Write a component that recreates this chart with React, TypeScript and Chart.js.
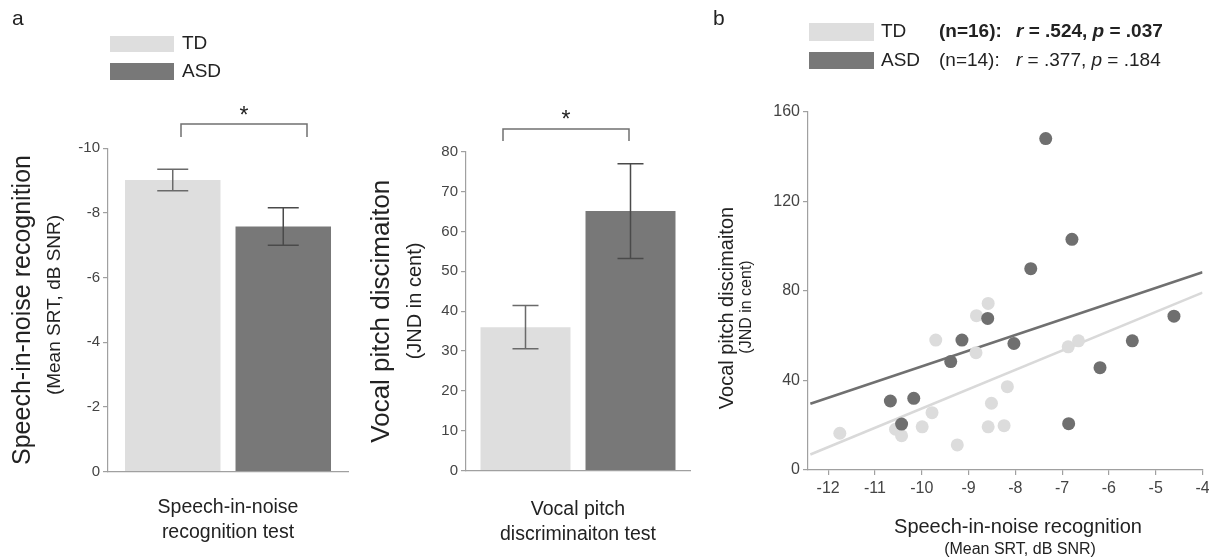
import React, { useEffect, useRef } from "react";
import { Chart, registerables } from "chart.js";

Chart.register(...registerables);

const FONT = "'Liberation Sans', Arial, Helvetica, sans-serif";
Chart.defaults.font.family = FONT;

// ---------- data ----------
const groups = ["TD", "ASD"];

// Panel a (left): speech-in-noise recognition (mean SRT, dB SNR)
const speechCategory = ["Speech-in-noise recognition test"];
const speechMeans = [-9.02, -7.58];
const speechErrors = [0.33, 0.58];
const speechTicks = [0, -2, -4, -6, -8, -10];

// Panel a (right): vocal pitch discrimination (JND in cent)
const pitchCategory = ["Vocal pitch discriminaiton test"];
const pitchMeans = [36.0, 65.1];
const pitchErrors = [5.4, 11.9];
const pitchTicks = [0, 10, 20, 30, 40, 50, 60, 70, 80];

// Panel b: scatter
const tdX = [-11.75, -10.56, -10.43, -9.99, -9.78, -9.7, -9.24, -8.84, -8.83, -8.58, -8.58, -8.51, -8.24, -8.17, -6.87, -6.65];
const tdY = [16.4, 18.2, 15.3, 19.3, 25.6, 58.0, 11.2, 52.4, 68.9, 74.4, 19.3, 29.8, 19.8, 37.2, 55.0, 57.7];
const asdX = [-10.67, -10.43, -10.17, -9.38, -9.14, -8.59, -8.03, -7.67, -7.35, -6.86, -6.79, -6.19, -5.5, -4.61];
const asdY = [30.8, 20.5, 32.0, 48.4, 58.0, 67.7, 56.5, 89.9, 148.0, 20.7, 103.0, 45.7, 57.7, 68.7];
const tdFitX = [-12.38, -4];
const tdFitY = [6.9, 79.2];
const asdFitX = [-12.38, -4];
const asdFitY = [29.6, 88.3];
const scatterXTicks = [-12, -11, -10, -9, -8, -7, -6, -5, -4];
const scatterYTicks = [0, 40, 80, 120, 160];
const tdStats = { n: "(n=16):", r: ".524", p: ".037" };
const asdStats = { n: "(n=14):", r: ".377", p: ".184" };

// ---------- styles ----------
const BAR_COLORS = ["#dedede", "#787878"];
const POINT_COLORS = ["#dcdcdc", "#6f6f6f"];
const LINE_COLORS = ["#d9d9d9", "#707070"];
const ERR_COLORS = ["#6a6a6a", "#4a4a4a"];
const AXIS = "#a0a0a0";
const TEXT = "#222222";
const TICK = "#444444";

type TextItem = {
  text: string;
  x: number;
  y: number;
  size: number;
  weight?: string;
  style?: string;
  align?: CanvasTextAlign;
  baseline?: CanvasTextBaseline;
  rotate?: boolean;
  color?: string;
};
type Run = { x: number; y: number; size: number; parts: { text: string; weight?: string; style?: string }[] };
type Swatch = { x: number; y: number; w: number; h: number; color: string };
type Bracket = { x1: number; x2: number; y: number; leg: number; star: { x: number; y: number; size: number } };

function fontStr(size: number, weight = "normal", style = "normal") {
  return `${style} ${weight} ${size}px ${FONT}`;
}

function decorPlugin(cfg: { texts?: TextItem[]; runs?: Run[]; swatches?: Swatch[]; bracket?: Bracket }) {
  return {
    id: "decor",
    afterDraw(chart: any) {
      const ctx: CanvasRenderingContext2D = chart.ctx;
      ctx.save();
      for (const s of cfg.swatches ?? []) {
        ctx.fillStyle = s.color;
        ctx.fillRect(s.x, s.y, s.w, s.h);
      }
      for (const t of cfg.texts ?? []) {
        ctx.save();
        ctx.font = fontStr(t.size, t.weight, t.style);
        ctx.fillStyle = t.color ?? TEXT;
        ctx.textAlign = t.align ?? "left";
        ctx.textBaseline = t.baseline ?? "middle";
        ctx.translate(t.x, t.y);
        if (t.rotate) ctx.rotate(-Math.PI / 2);
        ctx.fillText(t.text, 0, 0);
        ctx.restore();
      }
      for (const r of cfg.runs ?? []) {
        let x = r.x;
        ctx.textBaseline = "middle";
        ctx.textAlign = "left";
        ctx.fillStyle = TEXT;
        for (const p of r.parts) {
          ctx.font = fontStr(r.size, p.weight, p.style);
          ctx.fillText(p.text, x, r.y);
          x += ctx.measureText(p.text).width;
        }
      }
      if (cfg.bracket) {
        const b = cfg.bracket;
        ctx.strokeStyle = "#707070";
        ctx.lineWidth = 1.5;
        ctx.beginPath();
        ctx.moveTo(b.x1, b.leg);
        ctx.lineTo(b.x1, b.y);
        ctx.lineTo(b.x2, b.y);
        ctx.lineTo(b.x2, b.leg);
        ctx.stroke();
        ctx.font = fontStr(b.star.size);
        ctx.fillStyle = TEXT;
        ctx.textAlign = "center";
        ctx.textBaseline = "alphabetic";
        ctx.fillText("*", b.star.x, b.star.y);
      }
      ctx.restore();
    },
  };
}

function errorBarPlugin(errors: number[], capHalf: number) {
  return {
    id: "errorBars",
    afterDatasetsDraw(chart: any) {
      const ctx: CanvasRenderingContext2D = chart.ctx;
      const ys = chart.scales.y;
      ctx.save();
      chart.data.datasets.forEach((ds: any, i: number) => {
        const meta = chart.getDatasetMeta(i);
        meta.data.forEach((bar: any, j: number) => {
          const m = ds.data[j] as number;
          const e = errors[i];
          const y1 = ys.getPixelForValue(m - e);
          const y2 = ys.getPixelForValue(m + e);
          const x = bar.x;
          ctx.strokeStyle = ERR_COLORS[i];
          ctx.lineWidth = 1.5;
          ctx.beginPath();
          ctx.moveTo(x, y1);
          ctx.lineTo(x, y2);
          ctx.moveTo(x - capHalf, y1);
          ctx.lineTo(x + capHalf, y1);
          ctx.moveTo(x - capHalf, y2);
          ctx.lineTo(x + capHalf, y2);
          ctx.stroke();
        });
      });
      ctx.restore();
    },
  };
}

function ChartCanvas({ make, left, width, height }: { make: () => any; left: number; width: number; height: number }) {
  const ref = useRef<HTMLCanvasElement | null>(null);
  useEffect(() => {
    if (!ref.current) return;
    const chart = new Chart(ref.current, make());
    return () => chart.destroy();
  }, []);
  return (
    <canvas
      ref={ref}
      width={width}
      height={height}
      style={{ position: "absolute", left, top: 0, width, height }}
    />
  );
}

function barConfig(opts: {
  labels: string[];
  means: number[];
  errors: number[];
  ticks: number[];
  min: number;
  max: number;
  reverse: boolean;
  padding: { top: number; left: number; right: number; bottom: number };
  yWidth: number;
  xHeight: number;
  catPct: number;
  barPct: number;
  yTitle: string;
  yTitleSize: number;
  yTitlePad: number;
  xTitle: string[];
  capHalf: number;
  decor: any;
}) {
  return {
    type: "bar",
    data: {
      labels: opts.labels,
      datasets: groups.map((g, i) => ({
        label: g,
        data: [opts.means[i]],
        backgroundColor: BAR_COLORS[i],
        borderWidth: 0,
        categoryPercentage: opts.catPct,
        barPercentage: opts.barPct,
      })),
    },
    options: {
      animation: false,
      responsive: false,
      maintainAspectRatio: false,
      layout: { padding: opts.padding },
      plugins: { legend: { display: false }, tooltip: { enabled: false } },
      scales: {
        x: {
          ticks: { display: false },
          grid: { display: false },
          border: { display: true, color: AXIS, width: 1.2 },
          title: {
            display: true,
            text: opts.xTitle,
            color: TEXT,
            font: { size: 19.5, lineHeight: 1.282 },
            padding: 0,
          },
          afterFit: (s: any) => {
            s.height = opts.xHeight;
          },
        },
        y: {
          reverse: opts.reverse,
          min: opts.min,
          max: opts.max,
          afterBuildTicks: (s: any) => {
            s.ticks = opts.ticks.map((v) => ({ value: v }));
          },
          ticks: { font: { size: 15 }, color: TICK, padding: 3 },
          grid: { display: true, drawOnChartArea: false, drawTicks: true, tickLength: 5, color: AXIS, lineWidth: 1.2 },
          border: { display: true, color: AXIS, width: 1.2 },
          title: {
            display: true,
            text: opts.yTitle,
            color: TEXT,
            font: { size: opts.yTitleSize, lineHeight: 1.2 },
            padding: { top: opts.yTitlePad, bottom: 0 },
          },
          afterFit: (s: any) => {
            s.width = opts.yWidth;
          },
        },
      },
    },
    plugins: [errorBarPlugin(opts.errors, opts.capHalf), decorPlugin(opts.decor)],
  };
}

const makeSpeech = () =>
  barConfig({
    labels: speechCategory,
    means: speechMeans,
    errors: speechErrors,
    ticks: speechTicks,
    min: -10,
    max: 0,
    reverse: true,
    padding: { top: 148.3, left: 0, right: 12, bottom: 12.5 },
    yWidth: 108,
    xHeight: 73.8,
    catPct: 0.921,
    barPct: 0.864,
    yTitle: "Speech-in-noise recognition",
    yTitleSize: 25,
    yTitlePad: 8,
    xTitle: ["Speech-in-noise", "recognition test"],
    capHalf: 15.5,
    decor: {
      swatches: [
        { x: 110, y: 36, w: 64, h: 16, color: BAR_COLORS[0] },
        { x: 110, y: 63, w: 64, h: 17, color: BAR_COLORS[1] },
      ],
      texts: [
        { text: "a", x: 12, y: 19, size: 21 },
        { text: groups[0], x: 182, y: 44, size: 19 },
        { text: groups[1], x: 182, y: 72, size: 19 },
        { text: "(Mean SRT, dB SNR)", x: 55, y: 305, size: 19, rotate: true, align: "center" },
      ],
      bracket: { x1: 181, x2: 307, y: 124, leg: 137, star: { x: 244, y: 123, size: 23 } },
    },
  });

const makePitch = () =>
  barConfig({
    labels: pitchCategory,
    means: pitchMeans,
    errors: pitchErrors,
    ticks: pitchTicks,
    min: 0,
    max: 80,
    reverse: false,
    padding: { top: 151.7, left: 0, right: 10, bottom: 10.5 },
    yWidth: 106,
    xHeight: 76.8,
    catPct: 0.9375,
    barPct: 0.857,
    yTitle: "Vocal pitch discimaiton",
    yTitleSize: 26,
    yTitlePad: 6,
    xTitle: ["Vocal pitch", "discriminaiton test"],
    capHalf: 13,
    decor: {
      texts: [{ text: "(JND in cent)", x: 55, y: 301, size: 20, rotate: true, align: "center" }],
      bracket: { x1: 143, x2: 269, y: 129, leg: 141, star: { x: 206, y: 127, size: 23 } },
    },
  });

const makeScatter = () => ({
  type: "scatter",
  data: {
    datasets: [
      {
        label: "ASD",
        data: asdX.map((x, i) => ({ x, y: asdY[i] })),
        pointBackgroundColor: POINT_COLORS[1],
        backgroundColor: POINT_COLORS[1],
        pointBorderWidth: 0,
        pointRadius: 6.5,
        order: 1,
      },
      {
        label: "TD",
        data: tdX.map((x, i) => ({ x, y: tdY[i] })),
        pointBackgroundColor: POINT_COLORS[0],
        backgroundColor: POINT_COLORS[0],
        pointBorderWidth: 0,
        pointRadius: 6.5,
        order: 2,
      },
      {
        label: "ASD fit",
        data: asdFitX.map((x, i) => ({ x, y: asdFitY[i] })),
        showLine: true,
        borderColor: LINE_COLORS[1],
        borderWidth: 2.6,
        pointRadius: 0,
        order: 3,
      },
      {
        label: "TD fit",
        data: tdFitX.map((x, i) => ({ x, y: tdFitY[i] })),
        showLine: true,
        borderColor: LINE_COLORS[0],
        borderWidth: 2.6,
        pointRadius: 0,
        order: 4,
      },
    ],
  },
  options: {
    animation: false,
    responsive: false,
    maintainAspectRatio: false,
    layout: { padding: { top: 111.7, left: 0, right: 6, bottom: 0 } },
    plugins: { legend: { display: false }, tooltip: { enabled: false } },
    scales: {
      x: {
        type: "linear",
        min: -12.43,
        max: -4,
        afterBuildTicks: (s: any) => {
          s.ticks = scatterXTicks.map((v) => ({ value: v }));
        },
        ticks: { font: { size: 16 }, color: TICK, padding: 4 },
        grid: { display: true, drawOnChartArea: false, drawTicks: true, tickLength: 5, color: AXIS, lineWidth: 1.2 },
        border: { display: true, color: AXIS, width: 1.2 },
        afterFit: (s: any) => {
          s.height = 88;
          s.paddingRight = 0;
          s.paddingLeft = 0;
        },
      },
      y: {
        type: "linear",
        min: 0,
        max: 160,
        afterBuildTicks: (s: any) => {
          s.ticks = scatterYTicks.map((v) => ({ value: v }));
        },
        ticks: { font: { size: 16 }, color: TICK, padding: 3 },
        grid: { display: true, drawOnChartArea: false, drawTicks: true, tickLength: 5, color: AXIS, lineWidth: 1.2 },
        border: { display: true, color: AXIS, width: 1.2 },
        afterFit: (s: any) => {
          s.width = 108;
        },
      },
    },
  },
  plugins: [
    decorPlugin({
      swatches: [
        { x: 109, y: 23, w: 65, h: 18, color: BAR_COLORS[0] },
        { x: 109, y: 52, w: 65, h: 17, color: BAR_COLORS[1] },
      ],
      texts: [
        { text: "b", x: 13, y: 19, size: 21 },
        { text: groups[0], x: 181, y: 32, size: 19 },
        { text: groups[1], x: 181, y: 61, size: 19 },
        { text: tdStats.n, x: 239, y: 32, size: 19, weight: "bold" },
        { text: asdStats.n, x: 239, y: 61, size: 19 },
        { text: "Vocal pitch discimaiton", x: 27, y: 308, size: 20, rotate: true, align: "center" },
        { text: "(JND in cent)", x: 47, y: 307, size: 16, rotate: true, align: "center" },
        { text: "Speech-in-noise recognition", x: 318, y: 527, size: 20, align: "center" },
        { text: "(Mean SRT, dB SNR)", x: 320, y: 550, size: 16, align: "center" },
      ],
      runs: [
        {
          x: 316,
          y: 32,
          size: 19,
          parts: [
            { text: "r", weight: "bold", style: "italic" },
            { text: ` = ${tdStats.r}, `, weight: "bold" },
            { text: "p", weight: "bold", style: "italic" },
            { text: ` = ${tdStats.p}`, weight: "bold" },
          ],
        },
        {
          x: 316,
          y: 61,
          size: 19,
          parts: [
            { text: "r", style: "italic" },
            { text: ` = ${asdStats.r}, ` },
            { text: "p", style: "italic" },
            { text: ` = ${asdStats.p}` },
          ],
        },
      ],
    }),
  ],
});

export default function App() {
  return (
    <div style={{ position: "absolute", left: 0, top: 0, width: 1209, height: 558, background: "#ffffff", overflow: "hidden" }}>
      <ChartCanvas make={makeSpeech} left={0} width={360} height={558} />
      <ChartCanvas make={makePitch} left={360} width={340} height={558} />
      <ChartCanvas make={makeScatter} left={700} width={509} height={558} />
    </div>
  );
}
